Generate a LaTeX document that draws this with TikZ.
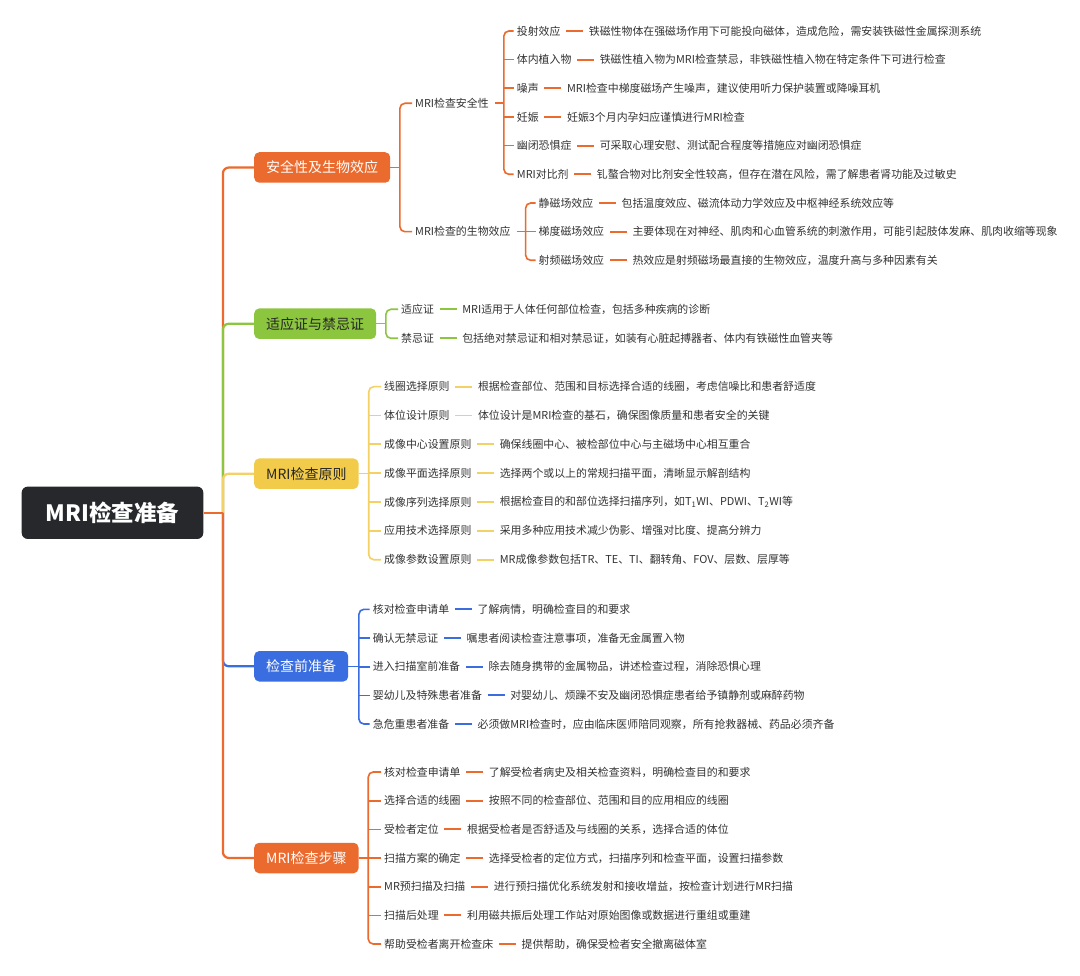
\documentclass[tikz,border=0pt]{standalone}
\usepackage{fontspec}
\setmainfont{Noto Sans CJK SC}
\usepackage{tikz}
\usetikzlibrary{positioning}
\definecolor{MMDark}{HTML}{26282C}
\definecolor{MMOrange}{HTML}{EB6A2D}
\definecolor{MMGreen}{HTML}{8CC63F}
\definecolor{MMYellow}{HTML}{F2CB4B}
\definecolor{MMYellowLine}{HTML}{F4D164}
\definecolor{MMBlue}{HTML}{3A6EE0}
\definecolor{MMText}{HTML}{333333}

\begin{document}
\begin{tikzpicture}[
  x=1pt, y=-1pt,
  node distance=22pt,
  root/.style={fill=MMDark, text=white, rounded corners=6pt, minimum width=181.6pt, minimum height=52.3pt, font=\fontsize{22.5}{26}\selectfont\bfseries},
  topic/.style={anchor=west, rounded corners=5pt, minimum height=30.5pt, inner xsep=12pt, font=\fontsize{14}{16}\selectfont},
  leaf/.style={anchor=west, inner xsep=3pt, inner ysep=2pt, text=MMText, font=\fontsize{10.9}{13}\selectfont},
  note/.style={leaf},
  stem/.style={line width=2.2pt, rounded corners=6pt},
  twig/.style={line width=1.6pt, rounded corners=5pt},
  tie/.style={line width=1.8pt, shorten <=2.5pt, shorten >=2.5pt}
]
\fill[white] (0,0) rectangle (1080,976);

% root and main topics
\node[root] (root) at (112.5,512.8) {MRI检查准备};
\node[topic, fill=MMOrange, text=white] (safe) at (254,167.5) {安全性及生物效应};
\node[topic, fill=MMGreen, text=black!85] (indic) at (254,323.7) {适应证与禁忌证};
\node[topic, fill=MMYellow, text=black!85] (rule) at (254,473.7) {MRI检查原则};
\node[topic, fill=MMBlue, text=white] (prep) at (254,666.3) {检查前准备};
\node[topic, fill=MMOrange, text=white] (proc) at (254,858) {MRI检查步骤};

\coordinate[right=19.4pt of root] (rootj);
\foreach \t/\c in {safe/MMOrange, indic/MMGreen, rule/MMYellowLine, prep/MMBlue, proc/MMOrange}
  \draw[stem, draw=\c] (rootj) |- (\t.west);
\draw[stem, draw=MMOrange] (root) -- (rootj);

% 安全性及生物效应
\coordinate[right=9.5pt of safe] (safej);
\node[leaf] (safety) at (412,103.3) {MRI检查安全性};
\node[leaf] (bio) at (412,231.7) {MRI检查的生物效应};
\draw[twig, draw=MMOrange] (safe) -- (safej);
\draw[twig, draw=MMOrange] (safety.west) -| (safej) |- (bio.west);

\coordinate[right=12pt of safety] (safetyj);
\draw[twig, draw=MMOrange, shorten <=3pt] (safety) -- (safetyj);
\foreach \n/\y/\lbl/\txt in {
  sa1/31/投射效应/铁磁性物体在强磁场作用下可能投向磁体，造成危险，需安装铁磁性金属探测系统,
  sa2/59.7/体内植入物/铁磁性植入物为MRI检查禁忌，非铁磁性植入物在特定条件下可进行检查,
  sa3/88.3/噪声/MRI检查中梯度磁场产生噪声，建议使用听力保护装置或降噪耳机,
  sa4/117/妊娠/妊娠3个月内孕妇应谨慎进行MRI检查,
  sa5/145.7/幽闭恐惧症/可采取心理安慰、测试配合程度等措施应对幽闭恐惧症,
  sa6/174.3/MRI对比剂/钆螯合物对比剂安全性较高，但存在潜在风险，需了解患者肾功能及过敏史}
{
  \node[leaf] (\n) at (513.7,\y) {\lbl};
  \node[note, right=of \n] (\n-d) {\txt};
  \draw[tie, draw=MMOrange] (\n) -- (\n-d);
}
\draw[twig, draw=MMOrange] (sa1.west) -| (safetyj) |- (sa6.west);
\foreach \n in {sa2,sa3,sa4,sa5}
  \draw[twig, draw=MMOrange] (\n.west -| safetyj) -- (\n.west);

\coordinate[right=12pt of bio] (bioj);
\draw[twig, draw=MMOrange, shorten <=3pt] (bio) -- (bioj);
\foreach \n/\y/\lbl/\txt in {
  bi1/203/静磁场效应/包括温度效应、磁流体动力学效应及中枢神经系统效应等,
  bi2/231.7/梯度磁场效应/主要体现在对神经、肌肉和心血管系统的刺激作用，可能引起肢体发麻、肌肉收缩等现象,
  bi3/260.3/射频磁场效应/热效应是射频磁场最直接的生物效应，温度升高与多种因素有关}
{
  \node[leaf] (\n) at (535.5,\y) {\lbl};
  \node[note, right=of \n] (\n-d) {\txt};
  \draw[tie, draw=MMOrange] (\n) -- (\n-d);
}
\draw[twig, draw=MMOrange] (bi1.west) -| (bioj) |- (bi3.west);
\draw[twig, draw=MMOrange] (bi2.west -| bioj) -- (bi2.west);

% 适应证与禁忌证
\coordinate[right=9.5pt of indic] (indicj);
\draw[twig, draw=MMGreen] (indic) -- (indicj);
\foreach \n/\y/\lbl/\txt in {
  in1/309.3/适应证/MRI适用于人体任何部位检查，包括多种疾病的诊断,
  in2/338.3/禁忌证/包括绝对禁忌证和相对禁忌证，如装有心脏起搏器者、体内有铁磁性血管夹等}
{
  \node[leaf] (\n) at (398,\y) {\lbl};
  \node[note, right=of \n] (\n-d) {\txt};
  \draw[tie, draw=MMGreen] (\n) -- (\n-d);
}
\draw[twig, draw=MMGreen] (in1.west) -| (indicj) |- (in2.west);

% MRI检查原则
\coordinate[right=10pt of rule] (rulej);
\draw[twig, draw=MMYellowLine] (rule) -- (rulej);
\foreach \n/\y/\lbl/\txt in {
  ru1/386.7/线圈选择原则/根据检查部位、范围和目标选择合适的线圈，考虑信噪比和患者舒适度,
  ru2/415.5/体位设计原则/体位设计是MRI检查的基石，确保图像质量和患者安全的关键,
  ru3/444.3/成像中心设置原则/确保线圈中心、被检部位中心与主磁场中心相互重合,
  ru4/473.2/成像平面选择原则/选择两个或以上的常规扫描平面，清晰显示解剖结构,
  ru5/502/成像序列选择原则/根据检查目的和部位选择扫描序列，如T\textsubscript{1}WI、PDWI、T\textsubscript{2}WI等,
  ru6/530.8/应用技术选择原则/采用多种应用技术减少伪影、增强对比度、提高分辨力,
  ru7/559.7/成像参数设置原则/MR成像参数包括TR、TE、TI、翻转角、FOV、层数、层厚等}
{
  \node[leaf] (\n) at (381,\y) {\lbl};
  \node[note, right=of \n] (\n-d) {\txt};
  \draw[tie, draw=MMYellowLine] (\n) -- (\n-d);
}
\draw[twig, draw=MMYellowLine] (ru1.west) -| (rulej) |- (ru7.west);
\foreach \n in {ru2,ru3,ru4,ru5,ru6}
  \draw[twig, draw=MMYellowLine] (\n.west -| rulej) -- (\n.west);

% 检查前准备
\coordinate[right=10.5pt of prep] (prepj);
\draw[twig, draw=MMBlue] (prep) -- (prepj);
\foreach \n/\y/\lbl/\txt in {
  pr1/609.3/核对检查申请单/了解病情，明确检查目的和要求,
  pr2/638/确认无禁忌证/嘱患者阅读检查注意事项，准备无金属置入物,
  pr3/666.7/进入扫描室前准备/除去随身携带的金属物品，讲述检查过程，消除恐惧心理,
  pr4/695.3/婴幼儿及特殊患者准备/对婴幼儿、烦躁不安及幽闭恐惧症患者给予镇静剂或麻醉药物,
  pr5/724/急危重患者准备/必须做MRI检查时，应由临床医师陪同观察，所有抢救器械、药品必须齐备}
{
  \node[leaf] (\n) at (369.7,\y) {\lbl};
  \node[note, right=of \n] (\n-d) {\txt};
  \draw[tie, draw=MMBlue] (\n) -- (\n-d);
}
\draw[twig, draw=MMBlue] (pr1.west) -| (prepj) |- (pr5.west);
\foreach \n in {pr2,pr3,pr4}
  \draw[twig, draw=MMBlue] (\n.west -| prepj) -- (\n.west);

% MRI检查步骤
\coordinate[right=9.5pt of proc] (procj);
\draw[twig, draw=MMOrange] (proc) -- (procj);
\foreach \n/\y/\lbl/\txt in {
  st1/772/核对检查申请单/了解受检者病史及相关检查资料，明确检查目的和要求,
  st2/800.7/选择合适的线圈/按照不同的检查部位、范围和目的应用相应的线圈,
  st3/829.3/受检者定位/根据受检者是否舒适及与线圈的关系，选择合适的体位,
  st4/858/扫描方案的确定/选择受检者的定位方式，扫描序列和检查平面，设置扫描参数,
  st5/886.7/MR预扫描及扫描/进行预扫描优化系统发射和接收增益，按检查计划进行MR扫描,
  st6/915.3/扫描后处理/利用磁共振后处理工作站对原始图像或数据进行重组或重建,
  st7/944/帮助受检者离开检查床/提供帮助，确保受检者安全撤离磁体室}
{
  \node[leaf] (\n) at (381,\y) {\lbl};
  \node[note, right=of \n] (\n-d) {\txt};
  \draw[tie, draw=MMOrange] (\n) -- (\n-d);
}
\draw[twig, draw=MMOrange] (st1.west) -| (procj) |- (st7.west);
\foreach \n in {st2,st3,st4,st5,st6}
  \draw[twig, draw=MMOrange] (\n.west -| procj) -- (\n.west);
\end{tikzpicture}
\end{document}
